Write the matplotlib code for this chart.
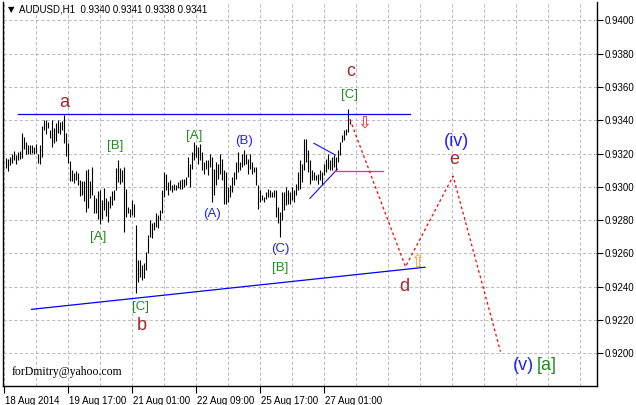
import matplotlib
matplotlib.use("Agg")
import matplotlib.pyplot as plt
import matplotlib.transforms as mtransforms
import numpy as np

# ---------------- data ----------------
symbol = "AUDUSD,H1"
title_ohlc = [0.9340, 0.9341, 0.9338, 0.9341]

bar_high = [
    0.93176, 0.93170, 0.93180, 0.93200, 0.93216, 0.93194, 0.93210, 0.93216, 0.93322, 0.93298,
    0.93271, 0.93251, 0.93251, 0.93251, 0.93241, 0.93255, 0.93200, 0.93251, 0.93363, 0.93404,
    0.93404, 0.93388, 0.93343, 0.93404, 0.93353, 0.93384, 0.93400, 0.93388, 0.93394, 0.93429,
    0.93324, 0.93264, 0.93154, 0.93104, 0.93084, 0.93094, 0.93084, 0.93044, 0.93034, 0.93034,
    0.93100, 0.93110, 0.93034, 0.93120, 0.92954, 0.92934, 0.92974, 0.92984, 0.92924, 0.92994,
    0.92934, 0.92914, 0.92944, 0.92974, 0.92984, 0.93114, 0.93164, 0.93115, 0.93100, 0.93120,
    0.92990, 0.92880, 0.92870, 0.92920, 0.92900, 0.92770, 0.92560, 0.92560, 0.92530, 0.92540,
    0.92610, 0.92710, 0.92800, 0.92780, 0.92790, 0.92840, 0.92830, 0.92860, 0.92980, 0.93090,
    0.93080, 0.93030, 0.93040, 0.93010, 0.93020, 0.93010, 0.93030, 0.93040, 0.93050, 0.93050,
    0.93060, 0.93180, 0.93140, 0.93210, 0.93270, 0.93250, 0.93240, 0.93260, 0.93210, 0.93150,
    0.93160, 0.93160, 0.93200, 0.93180, 0.93110, 0.93150, 0.93140, 0.93200, 0.93170, 0.93100,
    0.93090, 0.93000, 0.93010, 0.93060, 0.93090, 0.93150, 0.93210, 0.93150, 0.93200, 0.93220,
    0.93200, 0.93170, 0.93200, 0.93150, 0.93120, 0.93120, 0.93010, 0.92980, 0.92950, 0.92940,
    0.92970, 0.92990, 0.92980, 0.92970, 0.92980, 0.92980, 0.92880, 0.92850, 0.92970, 0.92970,
    0.93000, 0.92980, 0.92970, 0.93000, 0.92980, 0.93020, 0.93090, 0.93160, 0.93140, 0.93290,
    0.93290, 0.93220, 0.93160, 0.93100, 0.93090, 0.93070, 0.93080, 0.93100, 0.93090, 0.93140,
    0.93170, 0.93200, 0.93160, 0.93180, 0.93190, 0.93180, 0.93220, 0.93270, 0.93310, 0.93340,
    0.93350, 0.93470, 0.93410,
]
bar_low = [
    0.93114, 0.93094, 0.93129, 0.93143, 0.93159, 0.93139, 0.93159, 0.93169, 0.93176, 0.93225,
    0.93200, 0.93200, 0.93200, 0.93204, 0.93200, 0.93204, 0.93145, 0.93139, 0.93180, 0.93343,
    0.93318, 0.93353, 0.93292, 0.93237, 0.93261, 0.93278, 0.93322, 0.93318, 0.93339, 0.93265,
    0.93184, 0.93144, 0.93034, 0.93034, 0.93024, 0.93044, 0.93014, 0.92944, 0.92954, 0.92914,
    0.92848, 0.92874, 0.92934, 0.92950, 0.92844, 0.92840, 0.92804, 0.92774, 0.92804, 0.92864,
    0.92824, 0.92788, 0.92874, 0.92894, 0.92924, 0.92984, 0.93028, 0.93015, 0.93030, 0.92730,
    0.92820, 0.92840, 0.92820, 0.92830, 0.92820, 0.92360, 0.92430, 0.92460, 0.92440, 0.92450,
    0.92500, 0.92600, 0.92700, 0.92690, 0.92740, 0.92760, 0.92750, 0.92800, 0.92840, 0.92940,
    0.92980, 0.92950, 0.92980, 0.92970, 0.92980, 0.92980, 0.92995, 0.92990, 0.92990, 0.93000,
    0.93010, 0.93060, 0.93000, 0.93110, 0.93160, 0.93180, 0.93140, 0.93160, 0.93100, 0.93080,
    0.93110, 0.93070, 0.93120, 0.92910, 0.92950, 0.93010, 0.93050, 0.93080, 0.93040, 0.92900,
    0.92900, 0.92910, 0.92940, 0.92970, 0.93010, 0.93050, 0.93090, 0.93100, 0.93120, 0.93130,
    0.93140, 0.93080, 0.93110, 0.93080, 0.93090, 0.93010, 0.92870, 0.92910, 0.92920, 0.92910,
    0.92930, 0.92940, 0.92940, 0.92940, 0.92940, 0.92820, 0.92780, 0.92700, 0.92800, 0.92860,
    0.92890, 0.92900, 0.92900, 0.92920, 0.92910, 0.92950, 0.92980, 0.92990, 0.93030, 0.93100,
    0.93150, 0.93090, 0.93020, 0.93040, 0.93040, 0.93040, 0.93020, 0.93040, 0.93010, 0.93070,
    0.93090, 0.93110, 0.93100, 0.93100, 0.93120, 0.93100, 0.93150, 0.93190, 0.93270, 0.93280,
    0.93310, 0.93330, 0.93380,
]

# time axis labels (bar index, text)
time_tick_idx = [-1, 31, 63, 95, 127, 159]
time_tick_labels = ["18 Aug 2014", "19 Aug 17:00", "21 Aug 01:00", "22 Aug 09:00",
                    "25 Aug 17:00", "27 Aug 01:00"]
price_ticks = [0.9200, 0.9220, 0.9240, 0.9260, 0.9280, 0.9300, 0.9320, 0.9340, 0.9360, 0.9380, 0.9400]

# trend lines (bar index, price)
resist_x = [6.2, 202.0]
resist_y = [0.93436, 0.93436]
support_x = [13.0, 209.7]
support_y = [0.92264, 0.92517]
tri_up_x = [154.2, 165.0]
tri_up_y = [0.93262, 0.93191]
tri_lo_x = [152.2, 165.9]
tri_lo_y = [0.92931, 0.93106]
level_x = [164.2, 188.9]
level_y = [0.93095, 0.93095]

# forecast path
fc_x = [172.2, 200.0, 223.8, 247.5]
fc_y = [0.93406, 0.92520, 0.93065, 0.92010]

# wave labels: (text, x, y, color, size)
RED = "#a3282c"
GRN = "#1f8a1f"
BLU = "#2323f0"
wave_labels = [
    ("a", 29.3, 0.93505, RED, 13),
    ("b", 68.0, 0.92168, RED, 13),
    ("c", 172.5, 0.93694, RED, 13),
    ("d", 199.5, 0.92399, RED, 13),
    ("e", 224.5, 0.93162, RED, 13),
    ("[C]", 172.0, 0.93552, GRN, 9.5),
    ("[B]", 55.0, 0.93246, GRN, 9.5),
    ("[A]", 46.5, 0.92696, GRN, 9.5),
    ("[C]", 67.3, 0.92278, GRN, 9.5),
    ("[A]", 94.3, 0.93306, GRN, 9.5),
    ("[B]", 137.3, 0.92513, GRN, 9.5),
    ("(A)", 103.5, 0.92837, BLU, 9.5),
    ("(B)", 119.3, 0.93276, BLU, 9.5),
    ("(C)", 137.3, 0.92627, BLU, 9.5),
    ("(iv)", 225.5, 0.93270, BLU, 13),
    ("(v)", 259.0, 0.91924, BLU, 13),
    ("[a]", 270.5, 0.91924, GRN, 13),
]
arrows = [("\u21e9", 179.5, 0.93384, "#ff2020"), ("\u21e7", 206.0, 0.92549, "#ff9a30")]
signature = "forDmitry@yahoo.com"

# ---------------- figure ----------------
W, H = 636, 405
fig = plt.figure(figsize=(W / 100, H / 100), dpi=100)
fig.patch.set_facecolor("white")
ax = fig.add_axes([3 / W, 19 / H, 594 / W, 384 / H])
ax.set_xlim(-1.25, 295.75)
ax.set_ylim(0.918035, 0.941108)

grid_kw = dict(color="#bcbcbc", lw=0.75, linestyle=(0, (3, 2.2)), zorder=0)
for p in price_ticks:
    ax.axhline(p, **grid_kw)
for gx in np.arange(-1, 296, 16):
    ax.axvline(gx, **grid_kw)

idx = np.arange(len(bar_high))
ax.vlines(idx, bar_low, bar_high, color="black", lw=0.8, zorder=3)

ax.plot(resist_x, resist_y, color="#0000ff", lw=0.9, zorder=4)
ax.plot(support_x, support_y, color="#0000ff", lw=0.9, zorder=4)
ax.plot(tri_up_x, tri_up_y, color="#0000ff", lw=0.75, zorder=4)
ax.plot(tri_lo_x, tri_lo_y, color="#0000ff", lw=0.75, zorder=4)
ax.plot(level_x, level_y, color="#e020e0", lw=0.9, zorder=4)
ax.plot(fc_x, fc_y, color="#ff0000", lw=0.9, linestyle=(0, (2.2, 2.2)), zorder=4)

for t, x, y, c, s in wave_labels:
    ax.text(x, y, t, color=c, fontsize=s, ha="center", va="center",
            family=["Liberation Sans", "DejaVu Sans"], zorder=5)
for t, x, y, c in arrows:
    ax.text(x, y, t, color=c, fontsize=12, ha="center", va="center",
            family=["DejaVu Sans"], zorder=5)

# axes styling
ax.spines["top"].set_visible(False)
for s in ["left", "bottom", "right"]:
    ax.spines[s].set_color("black")
    ax.spines[s].set_linewidth(1.0)

ax.yaxis.tick_right()
ax.set_yticks(price_ticks)
ax.set_yticklabels([f"{p:.4f}" for p in price_ticks])
ax.tick_params(axis="y", direction="out", length=4, width=0.8, pad=1.5,
               labelsize=7, colors="black")
ax.set_xticks(time_tick_idx)
ax.set_xticklabels(time_tick_labels)
ax.tick_params(axis="x", direction="out", length=5, width=0.8, pad=2,
               labelsize=7, colors="black")
offset = mtransforms.ScaledTranslation(1.5 / 100, 0, fig.dpi_scale_trans)
for lab in ax.get_xticklabels():
    lab.set_horizontalalignment("left")
    lab.set_transform(lab.get_transform() + offset)
for lab in ax.get_xticklabels() + ax.get_yticklabels():
    lab.set_family(["Liberation Sans", "DejaVu Sans"])

# header and signature
fig.text(8 / W, 1 - 10 / H, "\u25bc", fontsize=6, ha="left", va="center",
         family=["DejaVu Sans"])
fig.text(19 / W, 1 - 10 / H,
         symbol + "  " + " ".join(f"{v:.4f}" for v in title_ohlc),
         fontsize=7, ha="left", va="center", family=["Liberation Sans", "DejaVu Sans"])
fig.text(12 / W, 1 - 372 / H, signature, fontsize=8.5, ha="left", va="center",
         family=["Liberation Serif", "DejaVu Serif"])

fig.savefig("out.png", dpi=100, facecolor="white")
